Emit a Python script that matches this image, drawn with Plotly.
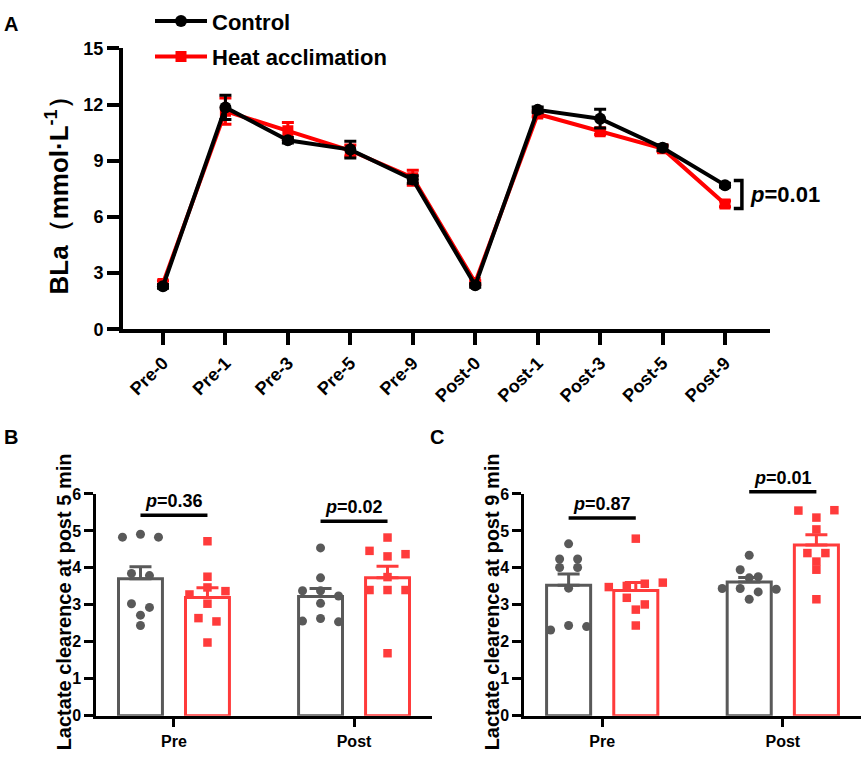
import plotly.graph_objects as go

FONT = "Liberation Sans, Arial, sans-serif"
BLACK = "#000000"
RED_LINE = "#ff0000"
GREY = "#595959"
RED = "#ff3b3b"

# ---- panel A: blood lactate over time ----
timepoints = ["Pre-0", "Pre-1", "Pre-3", "Pre-5", "Pre-9",
              "Post-0", "Post-1", "Post-3", "Post-5", "Post-9"]
control_bla = [2.3, 11.85, 10.1, 9.6, 8.0, 2.35, 11.72, 11.25, 9.7, 7.7]
control_sem = [0.1, 0.65, 0.15, 0.45, 0.2, 0.1, 0.15, 0.5, 0.15, 0.1]
heat_bla = [2.45, 11.65, 10.6, 9.55, 8.1, 2.5, 11.5, 10.55, 9.65, 6.7]
heat_sem = [0.15, 0.7, 0.45, 0.3, 0.4, 0.1, 0.15, 0.15, 0.15, 0.15]
p_post9 = "0.01"

# ---- panels B and C: lactate clearance ----
phases = ["Pre", "Post"]
clear5_control_pre = [4.83, 4.91, 4.83, 3.85, 3.79, 3.03, 2.93, 2.72, 2.44]
clear5_heat_pre = [4.72, 3.76, 3.28, 3.47, 3.37, 3.03, 2.64, 2.55, 1.98]
clear5_control_post = [4.54, 3.73, 3.38, 3.38, 3.24, 3.04, 2.56, 2.63, 2.54]
clear5_heat_post = [4.82, 4.46, 4.31, 4.37, 3.75, 3.40, 3.40, 3.40, 1.69]
clear5_p = ["0.36", "0.02"]
clear5_sig_level = [5.42, 5.26]

clear9_control_pre = [4.65, 4.24, 4.24, 4.01, 4.01, 3.45, 2.32, 2.44, 2.41]
clear9_heat_pre = [4.79, 3.48, 3.51, 3.57, 3.60, 3.19, 3.01, 2.87, 2.44]
clear9_control_post = [4.34, 3.95, 3.76, 3.73, 3.44, 3.44, 3.35, 3.42, 3.15]
clear9_heat_post = [5.55, 5.36, 5.56, 5.04, 4.40, 4.40, 4.17, 3.95, 3.15]
clear9_p = ["0.87", "0.01"]
clear9_sig_level = [5.35, 6.06]

W, H = 865, 763


def fx(px):
    return px / W


def fy(py):
    return 1 - py / H


DOM_A_X = [fx(123), fx(770)]
DOM_A_Y = [fy(323), fy(38)]
DOM_B_X = [fx(96), fx(432)]
DOM_C_X = [fx(524), fx(861)]
DOM_BC_Y = [fy(715), fy(490)]
RANGE_A_X = [-0.64, 9.72]
RANGE_BC_X = [-0.433, 1.433]
YMAX_BC = 6
BAR_OFF = 0.186
BAR_W = 0.244


def mean_sem(vals):
    n = len(vals)
    m = sum(vals) / n
    sd = (sum((v - m) ** 2 for v in vals) / (n - 1)) ** 0.5
    return m, sd / n ** 0.5


def swarm(vals, center, unit_per_px, row_gap=0.21, step_px=18):
    # simple row-based scatter layout, like the prism dot plots
    order = sorted(range(len(vals)), key=lambda i: -vals[i])
    rows = []
    for i in order:
        if rows and vals[rows[-1][0]] - vals[i] <= row_gap:
            rows[-1].append(i)
        else:
            rows.append([i])
    xs = [center] * len(vals)
    for row in rows:
        row.sort()
        n = len(row)
        for k, i in enumerate(row):
            xs[i] = center + (k - (n - 1) / 2) * step_px * unit_per_px
    return xs


fig = go.Figure()

# panel A lines (heat drawn first so control sits on top)
fig.add_trace(go.Scatter(
    x=list(range(len(timepoints))), y=heat_bla, name="Heat acclimation",
    mode="lines+markers", legendrank=2, legendgroup="heat",
    line=dict(color=RED_LINE, width=4),
    marker=dict(symbol="square", size=11, color=RED_LINE),
    error_y=dict(type="data", array=heat_sem, color=RED_LINE, thickness=3, width=6),
    xaxis="x", yaxis="y"))
fig.add_trace(go.Scatter(
    x=list(range(len(timepoints))), y=control_bla, name="Control",
    mode="lines+markers", legendrank=1, legendgroup="control",
    line=dict(color=BLACK, width=4),
    marker=dict(symbol="circle", size=12, color=BLACK),
    error_y=dict(type="data", array=control_sem, color=BLACK, thickness=3, width=6),
    xaxis="x", yaxis="y"))

# bracket for the Post-9 comparison
last = len(timepoints) - 1
top = control_bla[last] + 0.25
bot = heat_bla[last] - 0.25
fig.add_trace(go.Scatter(
    x=[last + 0.14, last + 0.27, last + 0.27, last + 0.14], y=[top, top, bot, bot],
    mode="lines", line=dict(color=BLACK, width=3.5), showlegend=False,
    hoverinfo="skip", xaxis="x", yaxis="y"))

annotations = [
    dict(x=last + 0.36, y=(top + bot) / 2, xref="x", yref="y", xanchor="left",
         yanchor="middle", showarrow=False, text="<i>p</i>=" + p_post9,
         font=dict(family=FONT, size=22, color=BLACK, weight="bold")),
]

shapes = []

panels = [
    ("x2", "y2", DOM_B_X, [clear5_control_pre, clear5_control_post],
     [clear5_heat_pre, clear5_heat_post], clear5_p, clear5_sig_level,
     "Lactate clearence at post 5 min", 64),
    ("x3", "y3", DOM_C_X, [clear9_control_pre, clear9_control_post],
     [clear9_heat_pre, clear9_heat_post], clear9_p, clear9_sig_level,
     "Lactate clearence at post 9 min", 492),
]

for xa, ya, dom, ctrl, heat, pvals, levels, ytitle, title_px in panels:
    px_width = (dom[1] - dom[0]) * W
    unit_per_px = (RANGE_BC_X[1] - RANGE_BC_X[0]) / px_width
    for groups, off, color in [(ctrl, -BAR_OFF, GREY), (heat, BAR_OFF, RED)]:
        stats = [mean_sem(g) for g in groups]
        fig.add_trace(go.Bar(
            x=[i + off for i in range(len(phases))], y=[s[0] for s in stats],
            width=BAR_W, marker=dict(color="white", line=dict(color=color, width=3)),
            error_y=dict(type="data", symmetric=False, array=[s[1] for s in stats],
                         arrayminus=[0] * len(phases), color=color, thickness=3, width=11),
            showlegend=False, xaxis=xa, yaxis=ya))
    for groups, off, color, symbol, size in [(ctrl, -BAR_OFF, GREY, "circle", 9),
                                             (heat, BAR_OFF, RED, "square", 8.5)]:
        for i, g in enumerate(groups):
            fig.add_trace(go.Scatter(
                x=swarm(g, i + off, unit_per_px), y=g, mode="markers",
                marker=dict(symbol=symbol, size=size, color=color),
                showlegend=False, cliponaxis=False, xaxis=xa, yaxis=ya))
    for i, (p, lvl) in enumerate(zip(pvals, levels)):
        shapes.append(dict(type="line", xref=xa, yref=ya + " domain",
                           x0=i - BAR_OFF, x1=i + BAR_OFF,
                           y0=lvl / YMAX_BC, y1=lvl / YMAX_BC,
                           line=dict(color=BLACK, width=3.5)))
        annotations.append(dict(x=i, y=lvl / YMAX_BC, xref=xa, yref=ya + " domain",
                                xanchor="center", yanchor="bottom", yshift=2,
                                showarrow=False, text="<i>p</i>=" + p,
                                font=dict(family=FONT, size=18, color=BLACK, weight="bold")))
    # y title sits tight against the tick labels, as in the prism export
    annotations.append(dict(x=fx(title_px), y=fy(600), xref="paper", yref="paper",
                            xanchor="center", yanchor="middle", textangle=-90,
                            showarrow=False, text=ytitle,
                            font=dict(family=FONT, size=20, color=BLACK, weight="bold")))

# panel letters
for letter, px, py in [("A", 11, 13), ("B", 11, 432), ("C", 437, 432)]:
    annotations.append(dict(x=fx(px), y=fy(py), xref="paper", yref="paper",
                            xanchor="center", yanchor="middle", showarrow=False, text=letter,
                            font=dict(family=FONT, size=20, color=BLACK, weight="bold")))

axA = dict(showline=True, linecolor=BLACK, linewidth=4, ticks="outside", ticklen=12,
           tickwidth=4, tickcolor=BLACK, showgrid=False, zeroline=False, automargin=False)
axBC = dict(showline=True, linecolor=BLACK, linewidth=2.5, ticks="outside", ticklen=9,
            tickwidth=2.5, tickcolor=BLACK, showgrid=False, zeroline=False, automargin=False,
            tickfont=dict(family=FONT, size=16, color=BLACK, weight="bold"))

fig.update_layout(
    width=W, height=H, margin=dict(l=0, r=0, t=0, b=0),
    paper_bgcolor="white", plot_bgcolor="white", barmode="overlay",
    font=dict(family=FONT, color=BLACK),
    showlegend=True,
    legend=dict(x=fx(150), y=fy(-11), xanchor="left", yanchor="top", traceorder="grouped",
                tracegroupgap=4, bgcolor="rgba(0,0,0,0)", itemwidth=52,
                font=dict(family=FONT, size=22, color=BLACK, weight="bold")),
    xaxis=dict(axA, domain=DOM_A_X, anchor="y", range=RANGE_A_X,
               tickvals=list(range(len(timepoints))), ticktext=timepoints, tickangle=-45,
               tickfont=dict(family=FONT, size=18, color=BLACK, weight="bold")),
    yaxis=dict(axA, domain=DOM_A_Y, anchor="x", range=[0, 15], dtick=3,
               tickfont=dict(family=FONT, size=18, color=BLACK, weight="bold"),
               title=dict(text="BLa（mmol·L<sup>-1</sup>）", standoff=8,
                          font=dict(family=FONT, size=26, color=BLACK, weight="bold"))),
    xaxis2=dict(axBC, domain=DOM_B_X, anchor="y2", range=RANGE_BC_X,
                tickvals=[0, 1], ticktext=phases),
    yaxis2=dict(axBC, domain=DOM_BC_Y, anchor="x2", range=[0, YMAX_BC], dtick=1),
    xaxis3=dict(axBC, domain=DOM_C_X, anchor="y3", range=RANGE_BC_X,
                tickvals=[0, 1], ticktext=phases),
    yaxis3=dict(axBC, domain=DOM_BC_Y, anchor="x3", range=[0, YMAX_BC], dtick=1),
    shapes=shapes,
    annotations=annotations,
)

# the page body has a default 8px margin; drop it so the figure fills the window
fig.write_html("out.html", config={"displayModeBar": False},
               post_script="document.body.style.margin = '0px';")
